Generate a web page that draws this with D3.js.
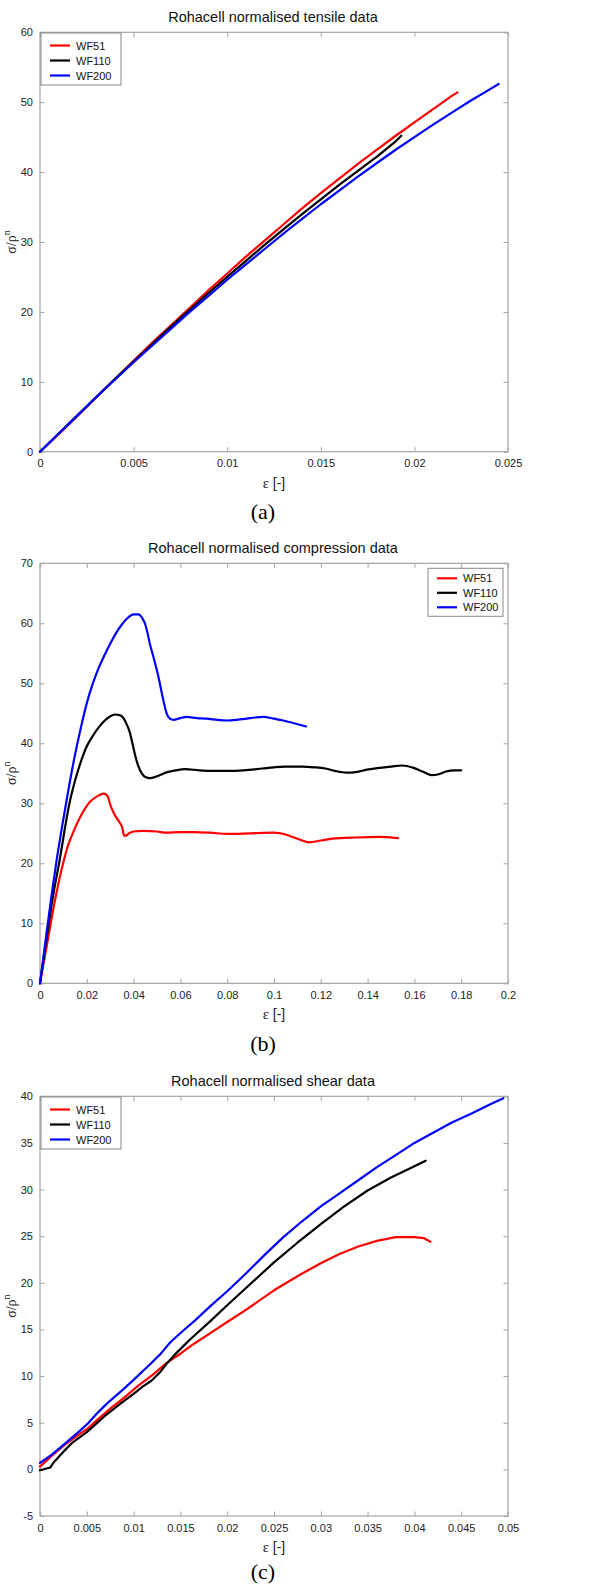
<!DOCTYPE html>
<html><head><meta charset="utf-8">
<script src="https://cdn.jsdelivr.net/npm/d3@7"></script>
<style>
html,body{margin:0;padding:0;background:#fff;}
svg{display:block;}
</style></head>
<body>
<svg id="chart" width="597" height="1586"></svg>
<script>
// ---------- data ----------
const seriesNames = ["WF51", "WF110", "WF200"];
const seriesColors = ["#ff0000", "#000000", "#0000ff"];

const titles = ["Rohacell normalised tensile data", "Rohacell normalised compression data", "Rohacell normalised shear data"];
const captions = ["(a)", "(b)", "(c)"];

const tensileXTicks = [0, 0.005, 0.01, 0.015, 0.02, 0.025];
const tensileYTicks = [0, 10, 20, 30, 40, 50, 60];
const compXTicks = [0, 0.02, 0.04, 0.06, 0.08, 0.1, 0.12, 0.14, 0.16, 0.18, 0.2];
const compYTicks = [0, 10, 20, 30, 40, 50, 60, 70];
const shearXTicks = [0, 0.005, 0.01, 0.015, 0.02, 0.025, 0.03, 0.035, 0.04, 0.045, 0.05];
const shearYTicks = [-5, 0, 5, 10, 15, 20, 25, 30, 35, 40];

const tensileWF51 = [[0,0],[0.001,2.5],[0.002,5.1],[0.003,7.8],[0.004,10.4],[0.005,13.0],[0.006,15.6],[0.007,18.1],[0.008,20.6],[0.009,23.1],[0.010,25.5],[0.011,27.9],[0.012,30.2],[0.013,32.5],[0.014,34.8],[0.015,37.0],[0.016,39.1],[0.017,41.2],[0.018,43.2],[0.019,45.2],[0.020,47.1],[0.021,49.0],[0.022,50.9],[0.0223,51.4]];
const tensileWF110 = [[0,0],[0.001,2.6],[0.002,5.2],[0.003,7.8],[0.004,10.4],[0.005,12.9],[0.006,15.4],[0.007,17.9],[0.008,20.3],[0.009,22.7],[0.010,25.0],[0.011,27.3],[0.012,29.6],[0.013,31.8],[0.014,34.0],[0.015,36.1],[0.016,38.2],[0.017,40.2],[0.018,42.2],[0.019,44.4],[0.0193,45.2]];
const tensileWF200 = [[0,0],[0.001,2.6],[0.002,5.2],[0.003,7.8],[0.004,10.3],[0.005,12.8],[0.006,15.2],[0.007,17.6],[0.008,20.0],[0.009,22.3],[0.010,24.6],[0.011,26.8],[0.012,29.0],[0.013,31.2],[0.014,33.3],[0.015,35.4],[0.016,37.4],[0.017,39.4],[0.018,41.3],[0.019,43.2],[0.020,45.0],[0.021,46.8],[0.022,48.5],[0.023,50.2],[0.024,51.8],[0.0245,52.6]];

const compWF51 = [[0,0],[0.003,6.5],[0.006,13],[0.0082,17.2],[0.0102,20.5],[0.012,23],[0.014,25],[0.0177,28.1],[0.0215,30.3],[0.0246,31.2],[0.0271,31.6],[0.0284,31.4],[0.0292,30.9],[0.0300,29.8],[0.0315,28.4],[0.0330,27.4],[0.0345,26.5],[0.0352,25.9],[0.0359,24.6],[0.0368,24.6],[0.0377,24.9],[0.0400,25.3],[0.0440,25.4],[0.0500,25.3],[0.0540,25.1],[0.0600,25.2],[0.0660,25.2],[0.0727,25.1],[0.0800,24.9],[0.0900,25.0],[0.1000,25.1],[0.1050,24.8],[0.1100,24.1],[0.1150,23.5],[0.1200,23.8],[0.1250,24.1],[0.1350,24.3],[0.1450,24.4],[0.1530,24.2]];
const compWF110 = [[0,0],[0.003,8],[0.006,15.5],[0.0084,20.5],[0.0105,25.5],[0.0127,30.2],[0.015,33.8],[0.0177,37.2],[0.0200,39.5],[0.0227,41.3],[0.025,42.6],[0.0277,43.8],[0.030,44.5],[0.032,44.8],[0.034,44.7],[0.0355,44.3],[0.0370,43.2],[0.0384,41.8],[0.0395,40],[0.0408,37.8],[0.0421,36.1],[0.0435,35],[0.0450,34.4],[0.0471,34.2],[0.0500,34.5],[0.0544,35.2],[0.0580,35.5],[0.0620,35.7],[0.0680,35.5],[0.0745,35.4],[0.0800,35.4],[0.087,35.5],[0.0950,35.8],[0.1000,36.0],[0.1046,36.1],[0.1120,36.1],[0.1171,36.0],[0.1220,35.8],[0.1260,35.4],[0.1309,35.1],[0.1350,35.2],[0.1397,35.6],[0.1450,35.9],[0.1500,36.1],[0.1547,36.3],[0.1597,35.9],[0.1640,35.2],[0.1673,34.7],[0.1700,34.8],[0.1735,35.3],[0.1770,35.5],[0.1800,35.5]];
const compWF200 = [[0,0],[0.0025,7.5],[0.005,14.8],[0.0071,20.5],[0.0093,25.8],[0.0115,30.8],[0.0145,37.2],[0.0177,43.0],[0.0200,46.7],[0.0227,50.1],[0.0250,52.5],[0.0277,54.8],[0.0300,56.6],[0.0327,58.5],[0.0350,59.8],[0.0372,60.8],[0.0400,61.5],[0.0421,61.5],[0.0438,60.8],[0.0450,59.8],[0.0460,58.3],[0.0470,56.5],[0.0484,54.5],[0.0506,51.1],[0.0527,47.2],[0.0541,45],[0.0555,44.1],[0.0570,43.9],[0.0600,44.2],[0.0627,44.4],[0.0670,44.2],[0.0712,44.1],[0.0760,43.9],[0.0798,43.8],[0.0840,43.9],[0.0883,44.1],[0.0920,44.3],[0.0954,44.4],[0.1000,44.1],[0.1040,43.8],[0.1090,43.3],[0.1137,42.8]];

const shearWF51 = [[0,0.3],[0.0013,1.5],[0.0026,2.6],[0.0041,3.7],[0.0050,4.3],[0.0060,5.2],[0.0076,6.6],[0.0090,7.7],[0.0104,8.9],[0.0120,10.1],[0.0135,11.4],[0.0150,12.4],[0.0165,13.5],[0.0182,14.6],[0.0200,15.8],[0.0220,17.1],[0.0250,19.2],[0.0280,21.0],[0.0300,22.1],[0.0320,23.1],[0.0340,23.9],[0.0360,24.5],[0.0380,24.9],[0.0400,24.9],[0.0410,24.8],[0.0417,24.4]];
const shearWF110 = [[0,-0.1],[0.0011,0.2],[0.0015,0.8],[0.0025,1.9],[0.0035,2.9],[0.0050,4.0],[0.0069,5.7],[0.0088,7.2],[0.0100,8.1],[0.0110,8.9],[0.0119,9.5],[0.0129,10.5],[0.0135,11.3],[0.0144,12.3],[0.0160,13.9],[0.0182,15.9],[0.0200,17.6],[0.0225,19.9],[0.0250,22.2],[0.0275,24.3],[0.0300,26.3],[0.0325,28.2],[0.0350,29.9],[0.0375,31.3],[0.0400,32.5],[0.0412,33.1]];
const shearWF200 = [[0,0.7],[0.0013,1.6],[0.0026,2.7],[0.0041,4.0],[0.0051,4.9],[0.0060,5.9],[0.0072,7.1],[0.0088,8.5],[0.0100,9.6],[0.0119,11.4],[0.0129,12.4],[0.0134,13.0],[0.0139,13.6],[0.0151,14.7],[0.0166,16.0],[0.0182,17.5],[0.0200,19.1],[0.0220,21.0],[0.0240,23.0],[0.0260,24.9],[0.0280,26.6],[0.0300,28.2],[0.0320,29.6],[0.0340,31.0],[0.0360,32.4],[0.0380,33.7],[0.0400,35.0],[0.0420,36.1],[0.0440,37.2],[0.0460,38.1],[0.0480,39.1],[0.0495,39.8]];

// ---------- layout ----------
const panels = [
  {title: titles[0], caption: captions[0], xDomain: [0, 0.025], yDomain: [0, 60], xTicks: tensileXTicks, yTicks: tensileYTicks,
   series: [tensileWF51, tensileWF110, tensileWF200], top: 32.3, bottom: 451.7, legend: "left", smooth: false, capY: 519},
  {title: titles[1], caption: captions[1], xDomain: [0, 0.2], yDomain: [0, 70], xTicks: compXTicks, yTicks: compYTicks,
   series: [compWF51, compWF110, compWF200], top: 563.3, bottom: 983.3, legend: "right", smooth: true, capY: 1051},
  {title: titles[2], caption: captions[2], xDomain: [0, 0.05], yDomain: [-5, 40], xTicks: shearXTicks, yTicks: shearYTicks,
   series: [shearWF51, shearWF110, shearWF200], top: 1096.3, bottom: 1516, legend: "left", smooth: false, capY: 1579}
];
const left = 40, right = 508;
const axisColor = "#a3a3a3";
const sans = "Arial, 'Liberation Sans', Helvetica, sans-serif";
const serif = "'Times New Roman', 'Liberation Serif', serif";
const svg = d3.select("#chart");
const fmt = v => String(+v.toFixed(6));

panels.forEach(p => {
  const g = svg.append("g");
  const x = d3.scaleLinear().domain(p.xDomain).range([left, right]);
  const y = d3.scaleLinear().domain(p.yDomain).range([p.bottom, p.top]);

  // frame
  g.append("rect").attr("x", left).attr("y", p.top).attr("width", right - left).attr("height", p.bottom - p.top)
    .attr("fill", "#fff").attr("stroke", axisColor).attr("stroke-width", 1.2);

  const tl = 4.5;
  const xb = g.append("g").attr("transform", `translate(0,${p.bottom})`)
    .call(d3.axisBottom(x).tickValues(p.xTicks).tickSizeInner(-tl).tickSizeOuter(0).tickPadding(8).tickFormat(fmt));
  const xt = g.append("g").attr("transform", `translate(0,${p.top})`)
    .call(d3.axisTop(x).tickValues(p.xTicks).tickSizeInner(-tl).tickSizeOuter(0).tickFormat(""));
  const yl = g.append("g").attr("transform", `translate(${left},0)`)
    .call(d3.axisLeft(y).tickValues(p.yTicks).tickSizeInner(-tl).tickSizeOuter(0).tickPadding(7).tickFormat(fmt));
  const yr = g.append("g").attr("transform", `translate(${right},0)`)
    .call(d3.axisRight(y).tickValues(p.yTicks).tickSizeInner(-tl).tickSizeOuter(0).tickFormat(""));
  [xb, xt, yl, yr].forEach(a => {
    a.select(".domain").remove();
    a.selectAll(".tick line").attr("stroke", axisColor).attr("stroke-width", 1);
    a.selectAll(".tick text").attr("font-family", sans).attr("font-size", 11).attr("fill", "#222");
  });

  const line = d3.line().x(d => x(d[0])).y(d => y(d[1])).curve(p.smooth ? d3.curveMonotoneX : d3.curveLinear);
  p.series.forEach((s, i) => {
    g.append("path").datum(s).attr("d", line).attr("fill", "none")
      .attr("stroke", seriesColors[i]).attr("stroke-width", 2.2).attr("stroke-linejoin", "round").attr("stroke-linecap", "round");
  });

  // title
  g.append("text").attr("x", (left + right) / 2 - 1).attr("y", p.top - 10.5).attr("text-anchor", "middle")
    .attr("font-family", sans).attr("font-size", 14.5).attr("fill", "#111").text(p.title);

  // x label
  const xl = g.append("text").attr("x", (left + right) / 2).attr("y", p.bottom + 36).attr("text-anchor", "middle")
    .attr("font-size", 15).attr("fill", "#222");
  xl.append("tspan").attr("font-family", serif).text("ε ");
  xl.append("tspan").attr("font-family", sans).attr("font-size", 14).text("[-]");

  // y label
  const cy = (p.top + p.bottom) / 2;
  const ylab = g.append("text").attr("transform", `translate(16,${cy}) rotate(-90)`).attr("text-anchor", "middle")
    .attr("font-family", serif).attr("font-size", 14).attr("fill", "#222");
  ylab.append("tspan").text("σ/ρ");
  ylab.append("tspan").attr("font-size", 10).attr("dy", -6).text("n");

  // caption
  g.append("text").attr("x", 263).attr("y", p.capY).attr("text-anchor", "middle")
    .attr("font-family", serif).attr("font-size", 22).attr("fill", "#000").text(p.caption);

  // legend
  const lw = p.legend === "left" ? 80 : 75, lh = p.legend === "left" ? 52 : 48;
  const lx = p.legend === "left" ? left + 1 : 428;
  const ly = p.legend === "left" ? p.top + 0.7 : p.top + 5;
  const lg = g.append("g").attr("transform", `translate(${lx},${ly})`);
  lg.append("rect").attr("width", lw).attr("height", lh).attr("fill", "#fff").attr("stroke", "#8a8a8a").attr("stroke-width", 1);
  const rowY0 = p.legend === "left" ? 12.5 : 10, rowDy = p.legend === "left" ? 15 : 14.5;
  seriesNames.forEach((n, i) => {
    const yy = rowY0 + i * rowDy;
    lg.append("line").attr("x1", 9).attr("x2", 29).attr("y1", yy).attr("y2", yy)
      .attr("stroke", seriesColors[i]).attr("stroke-width", 2.2);
    lg.append("text").attr("x", 35).attr("y", yy + 4).attr("font-family", sans).attr("font-size", 11)
      .attr("fill", "#111").text(n);
  });
});
</script>
</body></html>
